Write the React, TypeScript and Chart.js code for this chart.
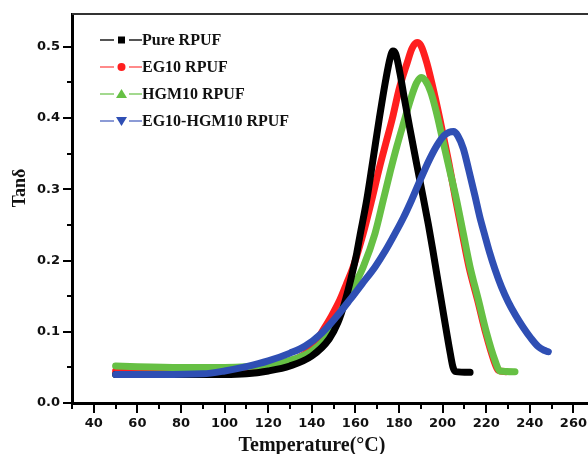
import React, { useEffect, useRef } from 'react';
import { Chart, registerables } from 'chart.js';

Chart.register(...registerables);

// ---- data ----
const pureT = [50, 70, 90, 100, 110, 120, 130, 140, 148, 152, 155, 158, 160.6, 162.1, 165.2, 168, 171, 174, 176, 177.2, 178.5, 180.5, 182.3, 185, 188, 191, 193.5, 195.5, 197.5, 199.6, 201.9, 203.5, 204.8, 206, 212.6];
const pureTan = [0.040, 0.040, 0.040, 0.040, 0.041, 0.045, 0.052, 0.066, 0.090, 0.113, 0.140, 0.175, 0.210, 0.235, 0.285, 0.340, 0.400, 0.455, 0.485, 0.494, 0.490, 0.462, 0.430, 0.385, 0.337, 0.290, 0.250, 0.215, 0.178, 0.140, 0.098, 0.070, 0.050, 0.044, 0.043];

const egT = [50, 80, 100, 110, 120, 130, 140, 145.3, 149, 152.9, 156, 159, 163.6, 167.5, 171, 174, 177, 180, 183.7, 186, 188.3, 190, 192.8, 196.5, 200, 203, 206, 209, 212.1, 216, 219.8, 223.5, 225.5, 229];
const egTan = [0.045, 0.045, 0.045, 0.046, 0.050, 0.058, 0.077, 0.103, 0.122, 0.145, 0.168, 0.191, 0.238, 0.285, 0.330, 0.365, 0.400, 0.440, 0.477, 0.498, 0.506, 0.502, 0.477, 0.430, 0.380, 0.335, 0.285, 0.238, 0.191, 0.145, 0.098, 0.060, 0.046, 0.044];

const hgmT = [50, 60, 80, 100, 110, 120, 130, 140, 148.3, 152, 156, 160, 163.6, 169, 172.8, 176, 179, 182.3, 185.5, 188, 190.1, 192, 194.5, 197, 200, 203, 206.4, 209.5, 212.6, 216.4, 220.2, 224, 226.3, 233.2];
const hgmTan = [0.052, 0.051, 0.050, 0.050, 0.051, 0.054, 0.060, 0.073, 0.098, 0.120, 0.145, 0.168, 0.191, 0.238, 0.285, 0.325, 0.360, 0.395, 0.428, 0.449, 0.457, 0.453, 0.437, 0.410, 0.370, 0.330, 0.285, 0.238, 0.191, 0.145, 0.098, 0.060, 0.045, 0.044];

const mixT = [50, 70, 90, 100, 110, 120, 130, 137, 144.5, 151, 157.5, 163, 169, 174, 178.2, 182, 185.8, 190, 194, 197.5, 200.5, 203, 205, 207, 209.5, 212, 214.9, 217, 219.4, 221.5, 224, 227, 230.1, 233.5, 237, 240.5, 243.9, 246.5, 248.5];
const mixTan = [0.040, 0.040, 0.041, 0.045, 0.051, 0.059, 0.070, 0.080, 0.098, 0.120, 0.145, 0.167, 0.191, 0.215, 0.238, 0.260, 0.285, 0.315, 0.342, 0.362, 0.375, 0.380, 0.381, 0.375, 0.357, 0.327, 0.290, 0.262, 0.235, 0.212, 0.188, 0.163, 0.142, 0.123, 0.106, 0.091, 0.079, 0.074, 0.072];

const seriesNames = ['Pure RPUF', 'EG10 RPUF', 'HGM10 RPUF', 'EG10-HGM10 RPUF'];
const seriesColors = ['#000000', '#ff1f1f', '#66c044', '#2f4fb4'];
const legendLineColors = ['#555555', '#ff8a8a', '#a3d98f', '#8c9bd6'];
const legendMarkers = ['square', 'circle', 'triangle', 'triangleDown'];
const seriesOrder = [1, 3, 2, 0];

const xTickValues = [30, 40, 50, 60, 70, 80, 90, 100, 110, 120, 130, 140, 150, 160, 170, 180, 190, 200, 210, 220, 230, 240, 250, 260, 270, 280];
const xLabelValues = [40, 60, 80, 100, 120, 140, 160, 180, 200, 220, 240, 260];
const yTickValues = [0, 0.05, 0.1, 0.15, 0.2, 0.25, 0.3, 0.35, 0.4, 0.45, 0.5];

const xTitle = 'Temperature(°C)';
const yTitle = 'Tanδ';

const pts = (xs: number[], ys: number[]) => xs.map((x, i) => ({ x, y: ys[i] }));

const decorPlugin = {
  id: 'decor',
  afterDraw(chart: any) {
    const { ctx, chartArea, scales } = chart;
    const xs = scales.x;
    const ys = scales.y;
    ctx.save();
    // top frame line
    ctx.strokeStyle = '#333';
    ctx.lineWidth = 2;
    ctx.beginPath();
    ctx.moveTo(chartArea.left, chartArea.top);
    ctx.lineTo(chart.width, chartArea.top);
    ctx.stroke();
    // tick marks
    ctx.strokeStyle = '#000';
    ctx.lineWidth = 2;
    xTickValues.forEach((v) => {
      const px = Math.round(xs.getPixelForValue(v));
      const major = v % 20 === 0;
      ctx.beginPath();
      ctx.moveTo(px, chartArea.bottom);
      ctx.lineTo(px, chartArea.bottom + (major ? 10 : 6));
      ctx.stroke();
    });
    yTickValues.forEach((v) => {
      const py = Math.round(ys.getPixelForValue(v));
      const major = Math.round(v * 20) % 2 === 0;
      ctx.beginPath();
      ctx.moveTo(chartArea.left, py);
      ctx.lineTo(chartArea.left - (major ? 9 : 5), py);
      ctx.stroke();
    });
    // axis titles
    ctx.fillStyle = '#111';
    ctx.font = "bold 20px 'Liberation Serif'";
    ctx.textAlign = 'center';
    ctx.textBaseline = 'alphabetic';
    ctx.fillText(xTitle, 312, 451);
    ctx.save();
    ctx.translate(20, 188);
    ctx.rotate(-Math.PI / 2);
    ctx.font = "bold 18px 'Liberation Serif'";
    ctx.textBaseline = 'middle';
    ctx.fillText(yTitle, 0, 0);
    ctx.restore();
    // legend
    chart.data.datasets.forEach((ds: any, i: number) => {
      const cy = 40 + i * 27;
      ctx.strokeStyle = legendLineColors[i];
      ctx.lineWidth = 2;
      ctx.beginPath();
      ctx.moveTo(100, cy);
      ctx.lineTo(114, cy);
      ctx.moveTo(129, cy);
      ctx.lineTo(142, cy);
      ctx.stroke();
      ctx.fillStyle = seriesColors[i];
      const cx = 121.5;
      const m = legendMarkers[i];
      ctx.beginPath();
      if (m === 'square') {
        ctx.rect(cx - 3.5, cy - 3.5, 7, 7);
      } else if (m === 'circle') {
        ctx.arc(cx, cy, 4, 0, Math.PI * 2);
      } else if (m === 'triangle') {
        ctx.moveTo(cx, cy - 5);
        ctx.lineTo(cx - 5.5, cy + 4);
        ctx.lineTo(cx + 5.5, cy + 4);
        ctx.closePath();
      } else {
        ctx.moveTo(cx, cy + 5);
        ctx.lineTo(cx - 5.5, cy - 4);
        ctx.lineTo(cx + 5.5, cy - 4);
        ctx.closePath();
      }
      ctx.fill();
      ctx.fillStyle = '#111';
      ctx.font = "bold 16px 'Liberation Serif'";
      ctx.textAlign = 'left';
      ctx.textBaseline = 'middle';
      ctx.fillText(ds.label, 142, cy + 1);
    });
    ctx.restore();
  },
};

export default function App() {
  const canvasRef = useRef<HTMLCanvasElement | null>(null);

  useEffect(() => {
    const canvas = canvasRef.current;
    if (!canvas) return;
    const tickFont = { family: "'DejaVu Sans'", size: 13, weight: 'bold' as const };
    const series = [pts(pureT, pureTan), pts(egT, egTan), pts(hgmT, hgmTan), pts(mixT, mixTan)];
    const chart = new Chart(canvas, {
      type: 'line',
      data: {
        datasets: series.map((data, i) => ({
          label: seriesNames[i],
          data,
          borderColor: seriesColors[i],
          backgroundColor: seriesColors[i],
          borderWidth: 7,
          pointRadius: 0,
          fill: false,
          order: seriesOrder[i],
          cubicInterpolationMode: 'monotone' as const,
          borderCapStyle: 'round' as const,
          borderJoinStyle: 'round' as const,
        })),
      },
      options: {
        animation: false,
        responsive: false,
        devicePixelRatio: 1,
        layout: { padding: { top: 14, right: 13, left: 0, bottom: 0 } },
        plugins: { legend: { display: false }, tooltip: { enabled: false } },
        scales: {
          x: {
            type: 'linear',
            min: 30,
            max: 280,
            afterBuildTicks: (s: any) => {
              s.ticks = xTickValues.map((v) => ({ value: v }));
            },
            afterFit: (s: any) => {
              s.height = 51;
              s.paddingLeft = 0;
              s.paddingRight = 0;
            },
            grid: { display: false, drawTicks: false },
            border: { display: true, color: '#000', width: 3 },
            ticks: {
              padding: 13,
              color: '#111',
              font: tickFont,
              autoSkip: false,
              maxRotation: 0,
              callback: (v: any) => (xLabelValues.includes(Number(v)) ? String(v) : ''),
            },
          },
          y: {
            type: 'linear',
            min: 0,
            max: 0.546,
            afterBuildTicks: (s: any) => {
              s.ticks = yTickValues.map((v) => ({ value: v }));
            },
            afterFit: (s: any) => {
              s.width = 72;
              s.paddingTop = 0;
              s.paddingBottom = 0;
            },
            grid: { display: false, drawTicks: false },
            border: { display: true, color: '#000', width: 3 },
            ticks: {
              padding: 12,
              color: '#111',
              font: tickFont,
              autoSkip: false,
              callback: (v: any) => (Math.round(Number(v) * 20) % 2 === 0 ? Number(v).toFixed(1) : ''),
            },
          },
        },
      },
      plugins: [decorPlugin],
    } as any);
    return () => chart.destroy();
  }, []);

  return (
    <div style={{ position: 'fixed', left: 0, top: 0, width: 588, height: 454, overflow: 'hidden', background: '#fff' }}>
      <canvas ref={canvasRef} width={630} height={454} style={{ display: 'block' }} />
    </div>
  );
}
